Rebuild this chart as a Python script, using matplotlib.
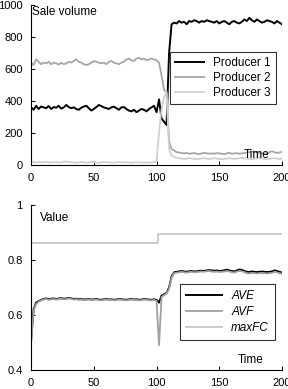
import numpy as np
import matplotlib
matplotlib.use('Agg')
import matplotlib.pyplot as plt
from matplotlib.ticker import FuncFormatter

plt.rcParams['font.family'] = ['Liberation Sans', 'DejaVu Sans']

# sampled every 2 time units
t = np.arange(0, 201, 2)

# --- sale volume (top panel) ---
p1_pre = [360, 345, 370, 350, 365, 360, 355, 368, 350, 362, 358, 370, 352, 360, 375, 362, 355, 360, 350, 345,
          358, 365, 370, 355, 340, 350, 362, 375, 368, 360, 355, 350, 360, 365, 355, 345, 360, 362, 350, 340,
          335, 345, 330, 340, 350, 345, 335, 350, 360, 370]
p1_mid = [330, 410, 290, 270, 250, 700, 880, 890]
p1_post = [885, 900, 890, 895, 880, 900, 895, 905, 900, 890, 900, 895, 905, 900, 895, 890, 900, 885, 895, 900,
           890, 880, 895, 900, 890, 885, 895, 910, 900, 920, 905, 895, 910, 900, 890, 895, 905, 900, 895, 885,
           900, 890, 880]

p2_pre = [640, 625, 660, 645, 630, 640, 635, 645, 630, 640, 635, 628, 640, 630, 635, 645, 640, 650, 660, 645,
          640, 630, 625, 630, 640, 650, 645, 640, 635, 640, 630, 645, 650, 640, 635, 630, 640, 645, 660, 665,
          655, 650, 665, 670, 660, 665, 655, 660, 665, 660]
p2_mid = [655, 640, 560, 470, 450, 150, 100, 90]
p2_post = [80, 78, 75, 72, 75, 70, 72, 75, 70, 68, 72, 75, 73, 70, 72, 70, 74, 72, 70, 68,
           72, 75, 70, 72, 74, 70, 72, 75, 78, 80, 85, 82, 78, 75, 72, 70, 75, 80, 85, 80,
           75, 78, 82]

p3_pre = [20, 18, 15, 17, 16, 18, 20, 15, 17, 16, 18, 15, 16, 20, 22, 18, 16, 15, 14, 16,
          18, 17, 15, 16, 18, 16, 15, 14, 16, 18, 17, 16, 15, 14, 16, 18, 17, 15, 16, 15,
          14, 16, 17, 15, 16, 14, 15, 16, 15, 18]
p3_mid = [20, 200, 350, 420, 460, 100, 60, 50]
p3_post = [45, 42, 40, 38, 40, 42, 40, 38, 36, 38, 40, 42, 40, 38, 40, 42, 40, 38, 36, 38,
           40, 42, 40, 38, 40, 42, 45, 42, 40, 38, 36, 38, 40, 42, 40, 38, 36, 38, 40, 42,
           40, 38, 40]

producer1 = p1_pre + p1_mid + p1_post
producer2 = p2_pre + p2_mid + p2_post
producer3 = p3_pre + p3_mid + p3_post

# --- values (bottom panel) ---
ave_pre = [0.51, 0.62, 0.645, 0.65, 0.655, 0.658, 0.66, 0.657, 0.659, 0.66, 0.658, 0.66, 0.661, 0.659, 0.66,
           0.662, 0.66, 0.658, 0.659, 0.657, 0.658, 0.656, 0.657, 0.658, 0.656, 0.657, 0.658, 0.656, 0.655,
           0.657, 0.658, 0.656, 0.657, 0.655, 0.656, 0.658, 0.657, 0.656, 0.655, 0.657, 0.658, 0.656, 0.657,
           0.655, 0.656, 0.658, 0.657, 0.656, 0.655, 0.657]
ave_mid = [0.655, 0.645, 0.67, 0.675, 0.68, 0.70, 0.74, 0.755]
ave_post = [0.757, 0.758, 0.76, 0.758, 0.757, 0.759, 0.76, 0.758, 0.759, 0.76, 0.761, 0.76, 0.762, 0.763,
            0.762, 0.761, 0.762, 0.76, 0.761, 0.762, 0.765, 0.762, 0.76, 0.758, 0.762, 0.765, 0.764, 0.76,
            0.757, 0.756, 0.758, 0.757, 0.756, 0.757, 0.758, 0.757, 0.756, 0.757, 0.758, 0.762, 0.76, 0.757,
            0.754]

avf_pre = [0.50, 0.615, 0.64, 0.648, 0.653, 0.656, 0.658, 0.655, 0.657, 0.658, 0.656, 0.658, 0.659, 0.657,
           0.658, 0.66, 0.658, 0.656, 0.657, 0.655, 0.656, 0.654, 0.655, 0.656, 0.654, 0.655, 0.656, 0.654,
           0.653, 0.655, 0.656, 0.654, 0.655, 0.653, 0.654, 0.656, 0.655, 0.654, 0.653, 0.655, 0.656, 0.654,
           0.655, 0.653, 0.654, 0.656, 0.655, 0.654, 0.653, 0.655]
avf_mid = [0.652, 0.49, 0.665, 0.672, 0.678, 0.695, 0.735, 0.752]
avf_post = [0.754, 0.755, 0.757, 0.755, 0.754, 0.756, 0.757, 0.755, 0.756, 0.757, 0.758, 0.757, 0.759,
            0.76, 0.758, 0.757, 0.758, 0.756, 0.757, 0.758, 0.76, 0.758, 0.756, 0.754, 0.758, 0.76, 0.759,
            0.756, 0.752, 0.751, 0.753, 0.752, 0.751, 0.752, 0.753, 0.752, 0.751, 0.752, 0.753, 0.757,
            0.755, 0.752, 0.75]

ave = ave_pre + ave_mid + ave_post
avf = avf_pre + avf_mid + avf_post

maxfc_t = [0, 101, 101, 200]
maxfc = [0.86, 0.86, 0.895, 0.895]

fig = plt.figure(figsize=(2.88, 3.89), dpi=100)
ax1 = fig.add_axes([0.108, 0.576, 0.871, 0.411])
ax2 = fig.add_axes([0.108, 0.049, 0.871, 0.424])

ax1.plot(t, producer1, color='black', lw=1.4, label='Producer 1')
ax1.plot(t, producer2, color='#a6a6a6', lw=1.3, label='Producer 2')
ax1.plot(t, producer3, color='#cfcfcf', lw=1.3, label='Producer 3')
ax1.set_xlim(0, 200)
ax1.set_ylim(0, 1000)
ax1.set_yticks([0, 200, 400, 600, 800, 1000])
ax1.text(0.005, 0.995, 'Sale volume', transform=ax1.transAxes, va='top', ha='left', fontsize=8.5)
ax1.text(0.95, 0.025, 'Time', transform=ax1.transAxes, va='bottom', ha='right', fontsize=8.5)
leg1 = ax1.legend(loc='upper right', bbox_to_anchor=(1.0, 0.745), fontsize=8.5, frameon=True,
                  fancybox=False, handlelength=2.4, handletextpad=0.8, borderpad=0.45, labelspacing=0.25)
leg1.get_frame().set_edgecolor('black')
leg1.get_frame().set_linewidth(0.8)

ax2.plot(t, ave, color='black', lw=1.4, label='AVE')
ax2.plot(t, avf, color='#a0a0a0', lw=1.3, label='AVF')
ax2.plot(maxfc_t, maxfc, color='#c8c8c8', lw=1.3, label='maxFC')
ax2.set_xlim(0, 200)
ax2.set_ylim(0.4, 1.0)
ax2.set_yticks([0.4, 0.6, 0.8, 1.0])
ax2.yaxis.set_major_formatter(FuncFormatter(lambda v, p: '{:g}'.format(round(v, 2))))
ax2.text(0.035, 0.955, 'Value', transform=ax2.transAxes, va='top', ha='left', fontsize=8.5)
ax2.text(0.925, 0.025, 'Time', transform=ax2.transAxes, va='bottom', ha='right', fontsize=8.5)
leg2 = ax2.legend(loc='upper right', bbox_to_anchor=(0.995, 0.555), fontsize=8.5, frameon=True,
                  fancybox=False, handlelength=3.0, handletextpad=0.8, borderpad=0.5, labelspacing=0.35)
leg2.get_frame().set_edgecolor('black')
leg2.get_frame().set_linewidth(0.8)
for txt in leg2.get_texts():
    txt.set_fontstyle('italic')

for ax in (ax1, ax2):
    ax.spines['top'].set_visible(False)
    ax.spines['right'].set_visible(False)
    ax.spines['left'].set_linewidth(0.8)
    ax.spines['bottom'].set_linewidth(0.8)
    ax.set_xticks([0, 50, 100, 150, 200])
    ax.tick_params(direction='in', length=3, width=0.7, labelsize=8)
    ax.tick_params(axis='y', pad=6)
    ax.tick_params(axis='x', pad=6)

fig.savefig('out.png', dpi=100)
